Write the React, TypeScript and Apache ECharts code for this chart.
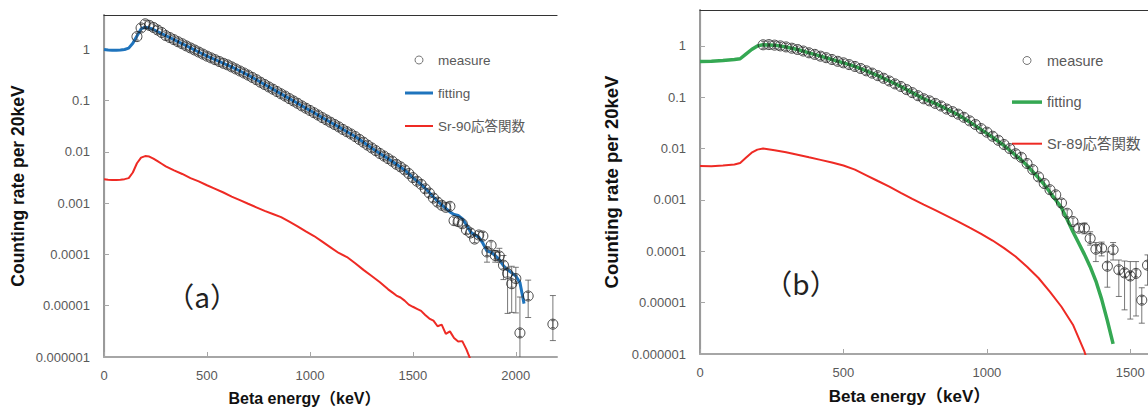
import React, { useEffect, useRef } from "react";
import * as echarts from "echarts";

const FONT = "'Liberation Sans', 'Noto Sans CJK JP', sans-serif";

// ---------- tick labels ----------
const yTickLabels = ["0.000001", "0.00001", "0.0001", "0.001", "0.01", "0.1", "1"];
const xTicksA = [0, 500, 1000, 1500, 2000];
const xTicksB = [0, 500, 1000, 1500];

// ---------- panel (a) Sr-90 ----------
const measureAEnergy = [160, 180, 200, 220, 240, 260, 280, 300, 320, 340, 360, 380, 400, 420, 440, 460, 480, 500, 520, 540, 560, 580, 600, 620, 640, 660, 680, 700, 720, 740, 760, 780, 800, 820, 840, 860, 880, 900, 920, 940, 960, 980, 1000, 1020, 1040, 1060, 1080, 1100, 1120, 1140, 1160, 1180, 1200, 1220, 1240, 1260, 1280, 1300, 1320, 1340, 1360, 1380, 1400, 1420, 1440, 1460, 1480, 1500, 1520, 1540, 1560, 1580, 1600, 1620, 1640, 1660, 1680, 1700, 1720, 1740, 1760, 1780, 1800, 1820, 1840, 1860, 1880, 1900, 1920, 1940, 1960, 1980, 2000, 2020, 2060, 2180];
const measureAValue = [1.78, 2.63, 3.16, 2.95, 2.69, 2.4, 2.14, 1.86, 1.7, 1.55, 1.41, 1.29, 1.17, 1.07, 0.977, 0.891, 0.813, 0.741, 0.684, 0.631, 0.582, 0.537, 0.501, 0.457, 0.417, 0.38, 0.347, 0.316, 0.285, 0.257, 0.229, 0.207, 0.186, 0.168, 0.151, 0.136, 0.123, 0.11, 0.0989, 0.0891, 0.0794, 0.0716, 0.0646, 0.0582, 0.0525, 0.0468, 0.0422, 0.038, 0.0343, 0.0309, 0.0275, 0.0248, 0.0224, 0.02, 0.0176, 0.0155, 0.0136, 0.012, 0.0106, 0.00933, 0.00832, 0.00741, 0.00661, 0.00575, 0.00513, 0.00447, 0.0038, 0.00316, 0.00269, 0.00234, 0.00191, 0.00158, 0.00126, 0.00105, 0.000912, 0.000832, 0.000871, 0.000457, 0.000437, 0.000398, 0.000302, 0.000263, 0.0002, 0.00024, 0.000229, 0.000112, 0.000151, 0.0000955, 0.0000933, 0.0000617, 0.0000427, 0.0000269, 0.0000339, 0.00000295, 0.0000155, 0.00000437];

const errAEnergy = [1860, 1900, 1920, 1940, 1960, 1980, 2000, 2020, 2060, 2180];
const errAHigh = [0.000141, 0.00012, 0.000132, 0.0000955, 0.0000562, 0.0000589, 0.0000562, 0.0000148, 0.0000316, 0.0000158];
const errALow = [0.0000708, 0.0000708, 0.0000708, 0.0000324, 0.00000708, 0.00000741, 0.00000724, 0.000000316, 0.00000589, 0.00000209];

const fitAEnergy = [0, 20, 40, 60, 80, 100, 120, 140, 160, 180, 200, 220, 240, 260, 280, 300, 340, 380, 420, 460, 500, 540, 580, 620, 660, 700, 740, 780, 820, 860, 900, 940, 980, 1020, 1060, 1100, 1140, 1180, 1220, 1260, 1300, 1340, 1380, 1420, 1460, 1500, 1540, 1580, 1600, 1620, 1640, 1660, 1680, 1700, 1720, 1740, 1760, 1780, 1800, 1820, 1840, 1860, 1880, 1900, 1920, 1940, 1960, 1980, 2000, 2020, 2040];
const fitAValue = [1.0, 0.977, 0.966, 0.966, 0.977, 1.0, 1.06, 1.32, 1.82, 2.51, 2.72, 2.63, 2.45, 2.24, 2.04, 1.86, 1.55, 1.29, 1.07, 0.891, 0.741, 0.631, 0.537, 0.457, 0.38, 0.316, 0.257, 0.207, 0.168, 0.136, 0.11, 0.0891, 0.0716, 0.0582, 0.0468, 0.038, 0.0309, 0.0248, 0.02, 0.0155, 0.012, 0.00933, 0.00741, 0.00575, 0.00447, 0.00316, 0.00234, 0.00162, 0.00132, 0.0011, 0.000933, 0.000794, 0.000676, 0.000603, 0.000575, 0.000501, 0.00038, 0.000275, 0.00024, 0.000219, 0.000166, 0.000117, 0.00011, 0.0000955, 0.0000794, 0.0000603, 0.0000501, 0.0000437, 0.000038, 0.0000282, 0.000011];

const respAEnergy = [0, 20, 40, 60, 80, 100, 120, 140, 160, 180, 200, 220, 240, 260, 280, 300, 340, 380, 420, 460, 500, 540, 580, 620, 660, 700, 740, 780, 820, 860, 900, 940, 980, 1020, 1060, 1100, 1140, 1180, 1220, 1260, 1300, 1340, 1380, 1400, 1420, 1440, 1460, 1480, 1500, 1520, 1540, 1560, 1580, 1600, 1620, 1640, 1660, 1680, 1700, 1720, 1740, 1760, 1780];
const respAValue = [0.00292, 0.00288, 0.00285, 0.00285, 0.00288, 0.00295, 0.00309, 0.00398, 0.00603, 0.00776, 0.00832, 0.00813, 0.00741, 0.00661, 0.00589, 0.00525, 0.00437, 0.00372, 0.00309, 0.00266, 0.00224, 0.00191, 0.00162, 0.00135, 0.00115, 0.000977, 0.000832, 0.000708, 0.000617, 0.000537, 0.000437, 0.000355, 0.000282, 0.000229, 0.000178, 0.000138, 0.000107, 0.0000891, 0.0000676, 0.0000501, 0.000038, 0.0000288, 0.0000209, 0.0000182, 0.0000158, 0.0000145, 0.0000126, 0.0000105, 0.00000955, 0.00000871, 0.00000794, 0.00000661, 0.00000562, 0.00000513, 0.00000398, 0.00000427, 0.00000282, 0.00000316, 0.00000234, 0.000002, 0.00000204, 0.00000141, 0.000000891];

// ---------- panel (b) Sr-89 ----------
const measureBEnergy = [220, 240, 260, 280, 300, 320, 340, 360, 380, 400, 420, 440, 460, 480, 500, 520, 540, 560, 580, 600, 620, 640, 660, 680, 700, 720, 740, 760, 780, 800, 820, 840, 860, 880, 900, 920, 940, 960, 980, 1000, 1020, 1040, 1060, 1080, 1100, 1120, 1140, 1160, 1180, 1200, 1220, 1240, 1260, 1280, 1300, 1320, 1340, 1360, 1380, 1400, 1420, 1440, 1460, 1480, 1500, 1520, 1540, 1560];
const measureBValue = [1.05, 1.06, 1.035, 1.0, 0.955, 0.902, 0.851, 0.794, 0.733, 0.684, 0.631, 0.589, 0.543, 0.501, 0.468, 0.432, 0.398, 0.363, 0.327, 0.295, 0.263, 0.234, 0.207, 0.182, 0.162, 0.141, 0.123, 0.107, 0.0933, 0.0851, 0.0759, 0.0676, 0.0589, 0.0525, 0.0468, 0.0407, 0.0347, 0.0295, 0.0245, 0.0209, 0.0174, 0.0145, 0.012, 0.01, 0.00794, 0.00676, 0.00513, 0.00389, 0.00282, 0.00209, 0.00158, 0.00126, 0.000871, 0.00055, 0.00038, 0.000282, 0.000282, 0.000178, 0.00011, 0.000115, 0.0000513, 0.000107, 0.0000437, 0.000038, 0.0000331, 0.0000372, 0.0000112, 0.0000537];

const errBEnergy = [1340, 1360, 1380, 1400, 1420, 1440, 1460, 1480, 1500, 1520, 1540, 1560];
const errBHigh = [0.000355, 0.00024, 0.000148, 0.000151, 0.0000977, 0.000148, 0.0000676, 0.0000646, 0.0000631, 0.0000631, 0.0000195, 0.0000851];
const errBLow = [0.000219, 0.000132, 0.0000631, 0.0000813, 0.00002, 0.0000676, 0.0000132, 0.00000724, 0.00000479, 0.0000055, 0.00000398, 0.0000219];

const fitBEnergy = [0, 40, 80, 120, 140, 160, 180, 200, 220, 260, 300, 340, 380, 420, 460, 500, 540, 580, 620, 660, 700, 740, 780, 820, 860, 900, 940, 980, 1020, 1060, 1100, 1120, 1140, 1160, 1180, 1200, 1220, 1240, 1260, 1280, 1300, 1320, 1340, 1360, 1380, 1400, 1420, 1440];
const fitBValue = [0.495, 0.501, 0.519, 0.543, 0.562, 0.692, 0.851, 1.0, 1.05, 1.035, 0.955, 0.851, 0.733, 0.631, 0.543, 0.468, 0.398, 0.327, 0.263, 0.207, 0.162, 0.123, 0.0933, 0.0759, 0.0589, 0.0457, 0.0331, 0.0234, 0.0166, 0.0115, 0.00741, 0.00603, 0.00468, 0.00355, 0.00269, 0.002, 0.00141, 0.001, 0.000708, 0.000417, 0.00024, 0.000145, 0.0000871, 0.0000501, 0.0000263, 0.0000117, 0.00000447, 0.00000158];

const respBEnergy = [0, 40, 80, 120, 140, 160, 180, 200, 220, 260, 300, 340, 380, 420, 460, 500, 540, 580, 620, 660, 700, 740, 780, 820, 860, 900, 940, 980, 1020, 1060, 1100, 1140, 1180, 1220, 1260, 1300, 1340, 1360];
const respBValue = [0.00457, 0.00452, 0.00468, 0.0049, 0.00525, 0.00661, 0.00832, 0.00955, 0.01, 0.00933, 0.00851, 0.00759, 0.00676, 0.00603, 0.00537, 0.00468, 0.00389, 0.00302, 0.00234, 0.00182, 0.00138, 0.00105, 0.000813, 0.000631, 0.00049, 0.00038, 0.000288, 0.000219, 0.000162, 0.000115, 0.0000794, 0.0000501, 0.0000302, 0.0000162, 0.00000832, 0.00000372, 0.00000112, 0.000000501];

const zip = (a: number[], b: number[]) => a.map((x, i) => [x, b[i]]);
const zip3 = (a: number[], b: number[], c: number[]) => a.map((x, i) => [x, b[i], c[i]]);

const innerBar = (params: any, api: any) => {
  const p = api.coord([api.value(0), api.value(1)]);
  const st = { stroke: "#333", lineWidth: 0.7 };
  return {
    type: "group",
    children: [
      { type: "line", shape: { x1: p[0], y1: p[1] - 3.5, x2: p[0], y2: p[1] + 3.5 }, style: st },
      { type: "line", shape: { x1: p[0] - 2, y1: p[1] - 3.5, x2: p[0] + 2, y2: p[1] - 3.5 }, style: st },
      { type: "line", shape: { x1: p[0] - 2, y1: p[1] + 3.5, x2: p[0] + 2, y2: p[1] + 3.5 }, style: st },
    ],
  };
};

const errorBar = (params: any, api: any) => {
  const hi = api.coord([api.value(0), api.value(1)]);
  const lo = api.coord([api.value(0), api.value(2)]);
  const st = { stroke: "#555", lineWidth: 0.8 };
  return {
    type: "group",
    children: [
      { type: "line", shape: { x1: hi[0], y1: hi[1], x2: lo[0], y2: lo[1] }, style: st },
      { type: "line", shape: { x1: hi[0] - 3, y1: hi[1], x2: hi[0] + 3, y2: hi[1] }, style: st },
      { type: "line", shape: { x1: lo[0] - 3, y1: lo[1], x2: lo[0] + 3, y2: lo[1] }, style: st },
    ],
  };
};

const yFormatter = (v: number) => {
  const e = Math.log10(v);
  const r = Math.round(e);
  if (Math.abs(e - r) > 1e-6) return "";
  return yTickLabels[r + 6] ?? "";
};
const xFormatter = (ticks: number[]) => (v: number) => (ticks.includes(v) ? String(v) : "");

const GRAY = "#a6a6a6";

function makeX(grid: number, max: number, ticks: number[], padR: number, nameGap: number, nameSize: number) {
  return [
    {
      gridIndex: grid,
      type: "value",
      min: 0,
      max,
      interval: 500,
      axisLine: { show: true, lineStyle: { color: GRAY, width: 2 } },
      axisTick: { show: true, inside: true, length: 5, lineStyle: { color: GRAY, width: 1 } },
      axisLabel: { formatter: xFormatter(ticks), color: "#595959", fontSize: 13, fontFamily: FONT, margin: 12, showMaxLabel: false },
      splitLine: { show: false },
      name: "Beta energy（keV）",
      nameLocation: "middle",
      nameGap,
      nameTextStyle: { fontSize: nameSize, fontWeight: "bold", color: "#111", fontFamily: FONT, padding: [0, padR, 0, 0] },
    },
    {
      gridIndex: grid,
      type: "value",
      position: "top",
      min: 0,
      max,
      interval: 500,
      axisLine: { show: true, lineStyle: { color: "#333", width: 1.2 } },
      axisTick: { show: false },
      axisLabel: { show: false },
      splitLine: { show: false },
    },
  ];
}

function makeY(grid: number, max: number, nameGap: number, nameSize: number) {
  return [
    {
      gridIndex: grid,
      type: "log",
      logBase: 10,
      min: 0.000001,
      max,
      axisLine: { show: true, lineStyle: { color: GRAY, width: 1.2 } },
      axisTick: { show: true, inside: true, length: 5, lineStyle: { color: GRAY, width: 1 } },
      axisLabel: { formatter: yFormatter, color: "#595959", fontSize: 13, fontFamily: FONT, margin: 14, showMaxLabel: false },
      splitLine: { show: false },
      minorTick: { show: false },
      name: "Counting rate per 20keV",
      nameLocation: "middle",
      nameGap,
      nameTextStyle: { fontSize: nameSize, fontWeight: "bold", color: "#111", fontFamily: FONT },
    },
    {
      gridIndex: grid,
      type: "log",
      logBase: 10,
      position: "right",
      min: 0.000001,
      max,
      axisLine: { show: true, lineStyle: { color: "#9a9a9a", width: 2 } },
      axisTick: { show: false },
      axisLabel: { show: false },
      splitLine: { show: false },
    },
  ];
}

const BLUE = "#1f74bd";
const GREEN = "#35a853";
const RED = "#ee2a24";
const lineIcon = (w: number, h: number) => `path://M0,0 L${w},0 L${w},${h} L0,${h} Z`;
const circleLegend = { icon: "circle", itemStyle: { color: "rgba(0,0,0,0)", borderColor: "#555", borderWidth: 1 } };

export default function App() {
  const ref = useRef<HTMLDivElement>(null);
  useEffect(() => {
    if (!ref.current) return;
    const chart = echarts.init(ref.current, null, { renderer: "svg" });
    const scatterStyle = { color: "rgba(0,0,0,0)", borderColor: "#1a1a1a", borderWidth: 1 };
    const option: any = {
      animation: false,
      textStyle: { fontFamily: FONT },
      grid: [
        { left: 104, top: 15, width: 453, height: 342, outerBoundsMode: "none", containLabel: false },
        { left: 700, top: 10, width: 459, height: 344, outerBoundsMode: "none", containLabel: false },
      ],
      xAxis: [...makeX(0, 2200, xTicksA, 52, 33, 16), ...makeX(1, 1600, xTicksB, 40, 34, 17)],
      yAxis: [...makeY(0, 4.7, 77, 17.5), ...makeY(1, 5, 79, 18.5)],
      legend: [
        {
          data: [
            { name: "measure", ...circleLegend },
            { name: "fitting", icon: lineIcon(28, 3), itemStyle: { color: BLUE } },
            { name: "Sr-90応答関数", icon: lineIcon(28, 2), itemStyle: { color: RED } },
          ],
          orient: "vertical",
          left: 405,
          top: 53,
          padding: 0,
          itemWidth: 28,
          itemHeight: 8,
          itemGap: 19,
          selectedMode: false,
          textStyle: { fontSize: 13.5, color: "#595959", fontFamily: FONT, lineHeight: 14 },
        },
        {
          data: [
            { name: "measure(b)", ...circleLegend },
            { name: "fitting(b)", icon: lineIcon(30, 3.5), itemStyle: { color: GREEN } },
            { name: "Sr-89応答関数", icon: lineIcon(30, 2), itemStyle: { color: RED } },
          ],
          formatter: (n: string) => n.replace("(b)", ""),
          orient: "vertical",
          left: 1012,
          top: 53,
          padding: 0,
          itemWidth: 30,
          itemHeight: 8,
          itemGap: 26.6,
          selectedMode: false,
          textStyle: { fontSize: 14.5, color: "#595959", fontFamily: FONT, lineHeight: 15 },
        },
      ],
      graphic: [
        { type: "text", x: 202, y: 296, style: { text: "（a）", fontSize: 28, fontFamily: "'Noto Sans CJK JP', sans-serif", fill: "#222", align: "center", verticalAlign: "middle" } },
        { type: "text", x: 801, y: 283, style: { text: "（b）", fontSize: 28, fontFamily: "'Noto Sans CJK JP', sans-serif", fill: "#222", align: "center", verticalAlign: "middle" } },
      ],
      series: [
        // panel a
        { name: "Sr-90応答関数", type: "line", xAxisIndex: 0, yAxisIndex: 0, data: zip(respAEnergy, respAValue), symbol: "none", lineStyle: { color: RED, width: 2 }, itemStyle: { color: RED }, z: 2 },
        { name: "fitting", type: "line", xAxisIndex: 0, yAxisIndex: 0, data: zip(fitAEnergy, fitAValue), symbol: "none", lineStyle: { color: BLUE, width: 3 }, itemStyle: { color: BLUE }, z: 3 },
        { name: "measure", type: "scatter", xAxisIndex: 0, yAxisIndex: 0, data: zip(measureAEnergy, measureAValue), symbol: "circle", symbolSize: 10, itemStyle: scatterStyle, z: 5 },
        { type: "custom", xAxisIndex: 0, yAxisIndex: 0, data: zip(measureAEnergy, measureAValue), renderItem: innerBar, z: 5, silent: true, clip: true },
        { type: "custom", xAxisIndex: 0, yAxisIndex: 0, data: zip3(errAEnergy, errAHigh, errALow), renderItem: errorBar, z: 4, silent: true, clip: true },
        // panel b
        { name: "Sr-89応答関数", type: "line", xAxisIndex: 2, yAxisIndex: 2, data: zip(respBEnergy, respBValue), symbol: "none", lineStyle: { color: RED, width: 2 }, itemStyle: { color: RED }, z: 2 },
        { name: "fitting(b)", type: "line", xAxisIndex: 2, yAxisIndex: 2, data: zip(fitBEnergy, fitBValue), symbol: "none", lineStyle: { color: GREEN, width: 3.5 }, itemStyle: { color: GREEN }, z: 3 },
        { name: "measure(b)", type: "scatter", xAxisIndex: 2, yAxisIndex: 2, data: zip(measureBEnergy, measureBValue), symbol: "circle", symbolSize: 10, itemStyle: scatterStyle, z: 5 },
        { type: "custom", xAxisIndex: 2, yAxisIndex: 2, data: zip(measureBEnergy, measureBValue), renderItem: innerBar, z: 5, silent: true, clip: true },
        { type: "custom", xAxisIndex: 2, yAxisIndex: 2, data: zip3(errBEnergy, errBHigh, errBLow), renderItem: errorBar, z: 4, silent: true, clip: true },
      ],
    };
    chart.setOption(option);
    return () => chart.dispose();
  }, []);
  return <div ref={ref} style={{ position: "absolute", left: 0, top: 0, width: 1148, height: 407, background: "#fff" }} />;
}
